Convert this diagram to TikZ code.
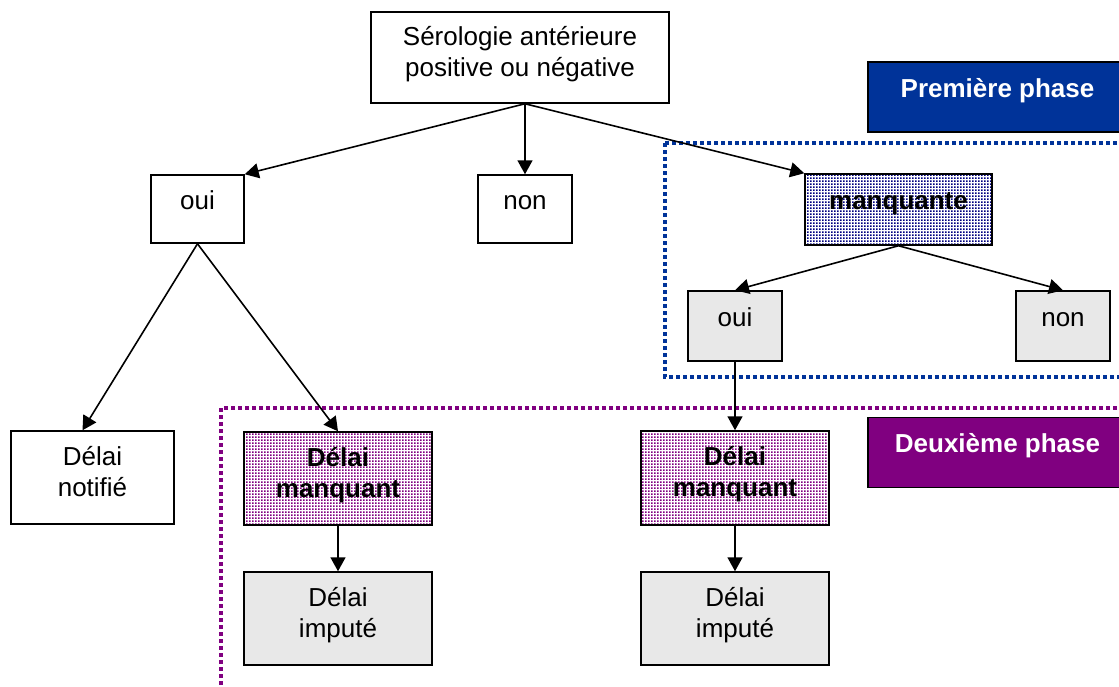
\documentclass[tikz,border=0pt]{standalone}
\usepackage{fontspec}
\setmainfont{Liberation Sans}
\usetikzlibrary{arrows.meta,patterns,patterns.meta}

\definecolor{phaseblue}{HTML}{003399}
\definecolor{phasepurple}{HTML}{800080}
\definecolor{dotblue}{HTML}{000080}
\definecolor{boxgray}{HTML}{E8E8E8}

\tikzdeclarepattern{
  name=fine dots,
  type=uncolored,
  bounding box={(0pt,0pt) and (1.5pt,1.5pt)},
  tile size={(1.5pt,1.5pt)},
  code={\pgfpathrectangle{\pgfpointorigin}{\pgfqpoint{1pt}{1pt}}\pgfusepath{fill}}
}

\begin{document}
\begin{tikzpicture}[x=0.5pt, y=-0.5pt,
    >={Triangle[length=7pt, width=7.5pt]},
    box/.style={draw, line width=0.75pt, inner sep=0pt, align=center,
      font=\fontsize{13}{15.5}\selectfont},
    single/.style={text height=9pt, text depth=9pt},
    double/.style={text height=25pt, text depth=6.5pt},
    greybox/.style={box, fill=boxgray},
    bluedots/.style={box, pattern=fine dots, pattern color=dotblue,
      font=\fontsize{13}{15.5}\selectfont\bfseries},
    purpledots/.style={box, pattern=fine dots, pattern color=phasepurple,
      font=\fontsize{13}{15.5}\selectfont\bfseries},
    phasebox/.style={box, single, text=white, minimum width=129.5pt, minimum height=35pt,
      font=\fontsize{13}{15.5}\selectfont\bfseries},
    frame/.style={line width=1.6pt, dash pattern=on 2pt off 1.5pt},
    link/.style={->, line width=0.8pt}]

    \clip (0,0) rectangle (1119,686);

    \draw[frame, phaseblue] (665,143) rectangle (1140,377);
    \draw[frame, phasepurple] (221,408) rectangle (1140,700);

    \node[box, double, minimum width=149pt, minimum height=45.5pt] (sero) at (520,57.5)
        {Sérologie antérieure\\positive ou négative};

    \node[box, single, minimum width=46.5pt, minimum height=34pt] (oui) at (197.5,209) {oui};
    \node[box, single, minimum width=47pt, minimum height=34pt] (non) at (525,209) {non};
    \node[bluedots, single, minimum width=93.5pt, minimum height=35.5pt] (manq) at (898.5,209.5) {manquante};

    \node[greybox, single, minimum width=47pt, minimum height=35pt] (manqoui) at (735,326) {oui};
    \node[greybox, single, minimum width=47pt, minimum height=35pt] (manqnon) at (1063,326) {non};

    \node[box, double, minimum width=81.5pt, minimum height=46.5pt] (notifie) at (92.5,477.5) {Délai\\notifié};
    \node[purpledots, double, minimum width=94pt, minimum height=46.5pt] (manq1) at (338,478.5) {Délai\\manquant};
    \node[purpledots, double, minimum width=94pt, minimum height=47pt] (manq2) at (735,478) {Délai\\manquant};
    \node[greybox, double, minimum width=94pt, minimum height=46.5pt] (impute1) at (338,618.5) {Délai\\imputé};
    \node[greybox, double, minimum width=94pt, minimum height=46.5pt] (impute2) at (735,618.5) {Délai\\imputé};

    \node[phasebox, fill=phaseblue] (phase1) at (997.5,97) {Première phase};
    \node[phasebox, fill=phasepurple] (phase2) at (997.5,452.5) {Deuxième phase};

    \draw[link] (sero.south -| non.north) -- (oui.north east);
    \draw[link] (sero.south -| non.north) -- (non.north);
    \draw[link] (sero.south -| non.north) -- (manq.north west);

    \draw[link] (manq.south) -- (manqoui.north);
    \draw[link] (manq.south) -- (manqnon.north);

    \draw[link] (oui.south) -- ([xshift=-5pt]notifie.north);
    \draw[link] (oui.south) -- (manq1.north);
    \draw[link] (manqoui.south) -- (manq2.north);

    \draw[link] (manq1.south) -- (impute1.north);
    \draw[link] (manq2.south) -- (impute2.north);

\end{tikzpicture}
\end{document}
